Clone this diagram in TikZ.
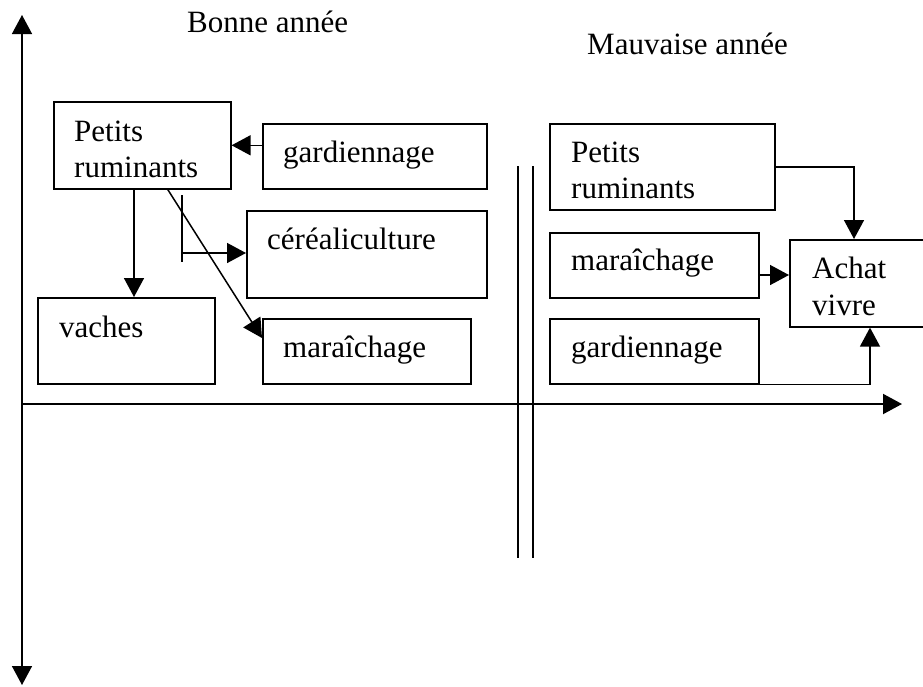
\documentclass[tikz,border=0pt]{standalone}
\usepackage{fontspec}
\setmainfont{Liberation Serif}
\usetikzlibrary{arrows.meta}
\begin{document}
\begin{tikzpicture}[x=1pt,y=-1pt,
  box/.style={draw,line width=1.6pt,rectangle,inner sep=0pt,anchor=north west},
  txt/.style={inner sep=0pt,anchor=base west,font=\fontsize{31}{36}\selectfont},
  conn/.style={line width=1.5pt,-{Triangle[length=19pt,width=20pt]}},
  plain/.style={line width=1.5pt},
  axis/.style={line width=2pt},
]
\clip (0,0) rectangle (923,686);
\fill[white] (0,0) rectangle (923,686);
% axes
\coordinate (O) at (22,404);
\coordinate (ytop) at (22,15);
\coordinate (ybot) at (22,685);
\coordinate (xend) at (902,404);
\draw[plain,{Triangle[length=19pt,width=20pt]}-{Triangle[length=19pt,width=20pt]}] (ybot) -- (ytop);
\draw[axis,-{Triangle[length=19pt,width=20pt]}] (O) -- (xend);
% double separator
\coordinate (s1a) at (518,166); \coordinate (s1b) at (518,558);
\coordinate (s2a) at (533,166); \coordinate (s2b) at (533,558);
\draw[plain] (s1a) -- (s1b);
\draw[plain] (s2a) -- (s2b);
% titles
\node[txt] (bonne) at (187,32) {Bonne année};
\node[txt] (mauv) at (587,54) {Mauvaise année};
% left boxes
\node[box,minimum width=177pt,minimum height=87pt] (prL) at (53,101) {};
\node[box,minimum width=224pt,minimum height=65pt] (gaL) at (262,123) {};
\node[box,minimum width=240pt,minimum height=87pt] (ceL) at (246,210) {};
\node[box,minimum width=177pt,minimum height=86pt] (vaL) at (37,297) {};
\node[box,minimum width=208pt,minimum height=65pt] (maL) at (262,318) {};
% right boxes
\node[box,minimum width=225pt,minimum height=86pt] (prR) at (549,123) {};
\node[box,minimum width=209pt,minimum height=65pt] (maR) at (549,232) {};
\node[box,minimum width=209pt,minimum height=65pt] (gaR) at (549,318) {};
\node[box,minimum width=170pt,minimum height=87pt] (acR) at (789,239) {};
% texts
\node[txt] (prL1) at (74,141) {Petits};
\node[txt] (prL2) at (74,177) {ruminants};
\node[txt] (gaLt) at (283,162) {gardiennage};
\node[txt] (ceLt) at (267,249) {céréaliculture};
\node[txt] (vaLt) at (59,337) {vaches};
\node[txt] (maLt) at (283,357) {maraîchage};
\node[txt] (prR1) at (571,162) {Petits};
\node[txt] (prR2) at (571,198) {ruminants};
\node[txt] (maRt) at (571,270) {maraîchage};
\node[txt] (gaRt) at (571,357) {gardiennage};
\node[txt] (acR1) at (812,278) {Achat};
\node[txt] (acR2) at (812,315) {vivre};
% left connectors
\draw[conn] (gaL.west |- prL.east) -- (prL.east);
\coordinate (vx) at (134,0);
\draw[conn] (prL.south -| vx) -- (vaL.north -| vx);
\coordinate (t1) at (182,195);
\coordinate (t2) at (182,262);
\coordinate (t3) at (182,253);
\draw[plain] (t1) -- (t2);
\draw[conn] (t3) -- (t3 -| ceL.west);
\draw[conn] ([xshift=25.5pt]prL.south) -- ([yshift=-20pt]maL.north west);
% right connectors
\coordinate (c1) at (854,0);
\draw[conn] (prR.east) -| (acR.north -| c1);
\coordinate (c2) at (0,275);
\draw[conn] (maR.east |- c2) -- (acR.west |- c2);
\coordinate (c3) at (870,0);
\draw[conn] (gaR.south east) -| (acR.south -| c3);
\end{tikzpicture}
\end{document}
